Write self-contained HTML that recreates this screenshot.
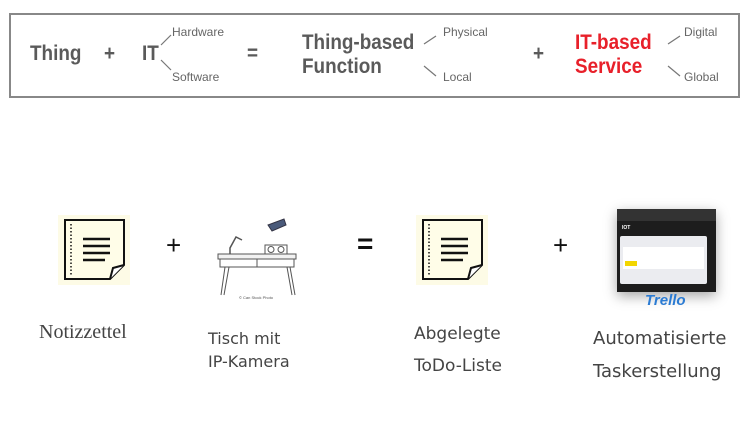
<!DOCTYPE html>
<html><head><meta charset="utf-8"><style>
body{margin:0;width:755px;height:424px;background:#fff;position:relative;overflow:hidden;font-family:"Liberation Sans",sans-serif}
.a{position:absolute;white-space:nowrap}
.b{font-weight:bold;font-size:21px;color:#5a5a5a;transform:scaleX(.9);transform-origin:left}
.s{font-size:12px;color:#666}
.c{font-family:"DejaVu Sans",sans-serif;font-size:17px;color:#444;line-height:32px}
</style></head><body>
<div class="a" style="left:9px;top:13px;width:731px;height:85px;border:2px solid #888;box-sizing:border-box"></div>
<div class="a b" style="left:30px;top:42px">Thing</div>
<div class="a b" style="left:104px;top:42px">+</div>
<div class="a b" style="left:142px;top:42px">IT</div>
<div class="a s" style="left:172px;top:25px">Hardware</div>
<div class="a s" style="left:172px;top:70px">Software</div>
<div class="a b" style="left:247px;top:42px">=</div>
<div class="a b" style="left:302px;top:31px;line-height:24px">Thing-based<br>Function</div>
<div class="a s" style="left:443px;top:25px">Physical</div>
<div class="a s" style="left:443px;top:70px">Local</div>
<div class="a b" style="left:533px;top:42px">+</div>
<div class="a b" style="left:575px;top:31px;line-height:24px;color:#e8202a">IT-based<br>Service</div>
<div class="a s" style="left:684px;top:25px">Digital</div>
<div class="a s" style="left:684px;top:70px">Global</div>
<svg class="a" style="left:0;top:0" width="755" height="110"><g stroke="#777" stroke-width="1.2">
<line x1="161" y1="45" x2="171" y2="35"/><line x1="161" y1="60" x2="171" y2="70"/>
<line x1="424" y1="44" x2="436" y2="36"/><line x1="424" y1="66" x2="436" y2="76"/>
<line x1="668" y1="44" x2="680" y2="36"/><line x1="668" y1="66" x2="680" y2="76"/></g></svg>

<svg class="a" style="left:58px;top:215px" width="72" height="70"><rect width="72" height="70" fill="#fdfbe6"/><path d="M7 5H66V50L52 64H7Z" fill="#fffde8" stroke="#111" stroke-width="2"/><path d="M52 64L55 53L66 50" fill="#fff" stroke="#111" stroke-width="2"/><line x1="13" y1="9" x2="13" y2="61" stroke="#111" stroke-width="1.5" stroke-dasharray="1.5 2"/><g stroke="#111" stroke-width="2.5"><line x1="25" y1="24" x2="52" y2="24"/><line x1="25" y1="31" x2="52" y2="31"/><line x1="25" y1="38" x2="52" y2="38"/><line x1="25" y1="45" x2="47" y2="45"/></g></svg>
<svg class="a" style="left:416px;top:215px" width="72" height="70"><rect width="72" height="70" fill="#fdfbe6"/><path d="M7 5H66V50L52 64H7Z" fill="#fffde8" stroke="#111" stroke-width="2"/><path d="M52 64L55 53L66 50" fill="#fff" stroke="#111" stroke-width="2"/><line x1="13" y1="9" x2="13" y2="61" stroke="#111" stroke-width="1.5" stroke-dasharray="1.5 2"/><g stroke="#111" stroke-width="2.5"><line x1="25" y1="24" x2="52" y2="24"/><line x1="25" y1="31" x2="52" y2="31"/><line x1="25" y1="38" x2="52" y2="38"/><line x1="25" y1="45" x2="47" y2="45"/></g></svg>
<div class="a" style="left:166px;top:230px;font-size:26px;color:#111">+</div>
<div class="a" style="left:553px;top:230px;font-size:26px;color:#111">+</div>
<div class="a" style="left:357px;top:228px;font-size:28px;font-weight:bold;color:#111">=</div>

<svg class="a" style="left:210px;top:215px" width="95" height="85" fill="none" stroke="#555" stroke-width="1"><rect x="8" y="39" width="78" height="5" fill="#f2f2f2"/><rect x="10" y="44" width="74" height="8"/><line x1="47" y1="44" x2="47" y2="52"/><line x1="15" y1="52" x2="11" y2="80"/><line x1="19" y1="52" x2="14" y2="80"/><line x1="77" y1="52" x2="82" y2="80"/><line x1="80" y1="52" x2="85" y2="80"/><path d="M20 39V33L26 22L32 25" stroke-width="1.5"/><rect x="55" y="30" width="22" height="9"/><circle cx="61" cy="34.5" r="3"/><circle cx="71" cy="34.5" r="3"/><path d="M58 10L74 4L76 10L62 16Z" fill="#4a5a7a" stroke="#334"/><text x="46" y="84" font-size="4" fill="#555" stroke="none" text-anchor="middle">© Can Stock Photo</text></svg>

<div class="a" style="left:617px;top:209px;width:99px;height:83px;background:#1d1d1d;box-shadow:0 4px 12px rgba(0,0,0,.35)">
<div style="height:12px;background:#333"></div>
<div style="position:absolute;left:3px;top:27px;width:87px;height:48px;background:#ebecf0;border-radius:2px"><div style="margin:11px 3px;height:22px;background:#fff"></div><div style="position:absolute;left:5px;top:25px;width:12px;height:5px;background:#f2d600"></div></div>
<div style="position:absolute;left:5px;top:16px;font-size:5px;color:#fff;font-weight:bold">IOT</div></div>
<div class="a" style="left:645px;top:292px;font-size:15px;font-style:italic;font-weight:bold;color:#2a7bd3">Trello</div>

<div class="a" style="left:39px;top:321px;font-family:'Liberation Serif',serif;font-size:20px;color:#444">Notizzettel</div>
<div class="a c" style="left:208px;top:327px;line-height:23px;font-size:16px">Tisch mit<br>IP-Kamera</div>
<div class="a c" style="left:414px;top:318px">Abgelegte<br>ToDo-Liste</div>
<div class="a c" style="left:593px;top:322px;line-height:33px;font-size:18px">Automatisierte<br>Taskerstellung</div>
</body></html>
